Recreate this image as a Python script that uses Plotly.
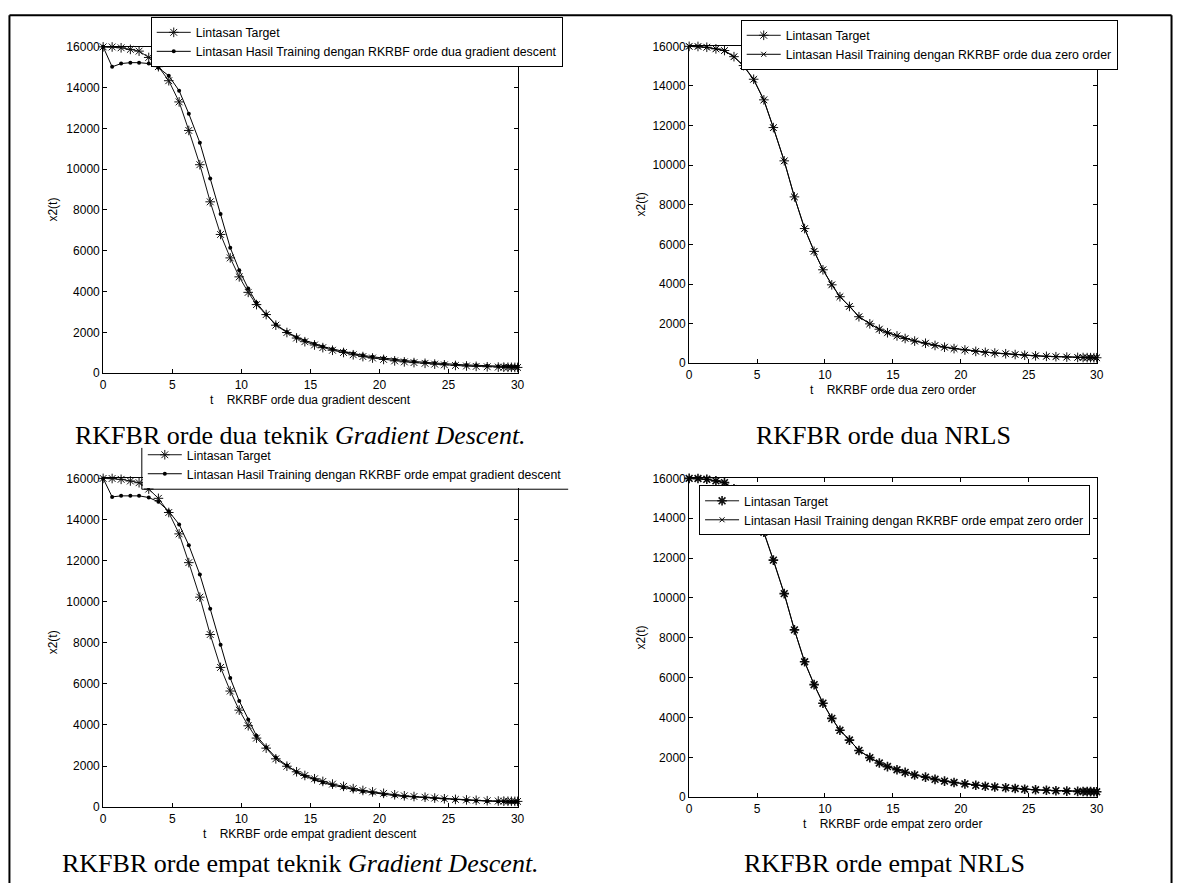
import plotly.graph_objects as go

W, H = 1183, 883

# ---------------- data ----------------
t = [0, 0.65, 1.3, 1.97, 2.6, 3.3, 4.0, 4.75, 5.5, 6.2,
     7.0, 7.75, 8.5, 9.2, 9.85, 10.5, 11.1, 11.8, 12.5, 13.3,
     14.0, 14.6, 15.3, 15.9, 16.6, 17.4, 18.1, 18.8, 19.5, 20.3,
     21.1, 21.8, 22.5, 23.3, 24.0, 24.7, 25.5, 26.3, 27.0, 27.8,
     28.6, 29.0, 29.3, 29.55, 29.8, 30.0]

target = [16000, 15995, 15955, 15875, 15790, 15480, 15030, 14340, 13300, 11900,
          10220, 8400, 6800, 5650, 4720, 3960, 3360, 2870, 2350, 1990,
          1720, 1540, 1380, 1250, 1120, 1010, 900, 810, 740, 670,
          600, 550, 515, 480, 440, 405, 375, 350, 330, 310,
          295, 290, 285, 282, 280, 278]

gd_dua = [16000, 15020, 15180, 15225, 15225, 15180, 14980, 14580, 13850, 12720,
          11300, 9550, 7800, 6150, 5050, 4150, 3450, 2880, 2380, 2020,
          1760, 1600, 1440, 1310, 1180, 1070, 960, 870, 800, 730,
          660, 610, 570, 530, 490, 460, 430, 400, 380, 355,
          335, 325, 320, 315, 312, 310]

zo_dua = [16000, 15990, 15950, 15870, 15780, 15470, 15010, 14320, 13280, 11880,
          10200, 8390, 6800, 5660, 4730, 3970, 3370, 2880, 2355, 1995,
          1715, 1545, 1385, 1255, 1125, 1015, 905, 815, 745, 675,
          605, 555, 520, 485, 445, 410, 380, 352, 332, 312,
          297, 292, 287, 284, 282, 280]

gd_empat = [16000, 15100, 15150, 15150, 15150, 15070, 14860, 14400, 13760, 12750,
            11320, 9650, 7900, 6280, 5170, 4260, 3470, 2920, 2420, 2030,
            1710, 1510, 1340, 1200, 1070, 950, 850, 760, 700, 620,
            560, 520, 490, 460, 420, 390, 360, 330, 310, 290,
            275, 270, 266, 263, 260, 258]

zo_empat = [16000, 15992, 15952, 15872, 15785, 15475, 15020, 14330, 13290, 11890,
            10210, 8395, 6790, 5655, 4725, 3965, 3365, 2875, 2352, 1992,
            1718, 1542, 1382, 1252, 1122, 1012, 902, 812, 742, 672,
            602, 552, 517, 482, 442, 407, 377, 351, 331, 311,
            296, 291, 286, 283, 281, 279]

x_ticks = [0, 5, 10, 15, 20, 25, 30]
y_ticks = [0, 2000, 4000, 6000, 8000, 10000, 12000, 14000, 16000]

legend_target = "Lintasan Target"
legend_names = [
    "Lintasan Hasil Training dengan RKRBF orde dua gradient descent",
    "Lintasan Hasil Training dengan RKRBF orde dua zero order",
    "Lintasan Hasil Training dengan RKRBF orde empat gradient descent",
    "Lintasan Hasil Training dengan RKRBF orde empat zero order",
]
xlabels = [
    "t\u00a0\u00a0\u00a0\u00a0RKRBF orde dua gradient descent",
    "t\u00a0\u00a0\u00a0\u00a0RKRBF orde dua zero order",
    "t\u00a0\u00a0\u00a0\u00a0RKRBF orde empat gradient descent",
    "t\u00a0\u00a0\u00a0\u00a0RKRBF orde empat zero order",
]
captions = [
    "RKFBR orde dua teknik <i>Gradient Descent.</i>",
    "RKFBR orde dua NRLS",
    "RKFBR orde empat teknik <i>Gradient Descent.</i>",
    "RKFBR orde empat NRLS",
]
series = [gd_dua, zo_dua, gd_empat, zo_empat]

# ---------------- layout helpers ----------------
def px(x):
    return x / W

def py(y):
    return 1 - y / H

# plot areas in pixels: (left, right, top, bottom)
boxes = [
    (101, 519, 40.5, 372),
    (692, 1103, 40, 362),
    (101, 519, 479, 813),
    (692, 1103, 479, 803),
]

SANS = "Liberation Sans, Arial, sans-serif"
SERIF = "Liberation Serif, Times New Roman, serif"

fig = go.Figure()

legend_ids = ["legend", "legend2", "legend3", "legend4"]
for i in range(4):
    xa = "x" if i == 0 else f"x{i+1}"
    ya = "y" if i == 0 else f"y{i+1}"
    bold = (i == 3)
    fig.add_trace(go.Scatter(
        x=t, y=target, mode="lines+markers", name=legend_target,
        xaxis=xa, yaxis=ya, legend=legend_ids[i], cliponaxis=False,
        line=dict(color="#111111", width=1),
        marker=dict(symbol="asterisk-open", size=8,
                    line=dict(color="black", width=1.6 if bold else 1)),
    ))
    if i in (0, 2):
        mk = dict(symbol="circle", size=4, color="black")
    else:
        mk = dict(symbol="x-thin-open", size=5, line=dict(color="black", width=1))
    fig.add_trace(go.Scatter(
        x=t, y=series[i], mode="lines+markers", name=legend_names[i],
        xaxis=xa, yaxis=ya, legend=legend_ids[i], cliponaxis=False,
        line=dict(color="black", width=1), marker=mk,
    ))

axis_common = dict(
    ticks="inside", ticklen=4, tickcolor="black", tickwidth=1,
    showline=True, linecolor="black", linewidth=1, mirror="ticks",
    showgrid=False, zeroline=False,
    tickfont=dict(family=SANS, size=12, color="black"),
)

layout = dict(
    width=W, height=H, margin=dict(l=0, r=0, t=0, b=0),
    paper_bgcolor="white", plot_bgcolor="white", showlegend=True,
)

for i, (l, r, tp, bt) in enumerate(boxes):
    xk = "xaxis" if i == 0 else f"xaxis{i+1}"
    yk = "yaxis" if i == 0 else f"yaxis{i+1}"
    ya = "y" if i == 0 else f"y{i+1}"
    xa = "x" if i == 0 else f"x{i+1}"
    layout[xk] = dict(axis_common, domain=[px(l), px(r)], range=[0, 30],
                      tickvals=x_ticks, anchor=ya)
    layout[yk] = dict(axis_common, domain=[py(bt), py(tp)], range=[0, 16000],
                      tickvals=y_ticks, tickformat="d", anchor=xa)

leg_common = dict(
    bgcolor="white", bordercolor="black", borderwidth=1,
    font=dict(family=SANS, size=12.3, color="black"),
    itemwidth=34, xanchor="left", tracegroupgap=0,
    itemclick=False, itemdoubleclick=False,
)
layout["legend"] = dict(leg_common, x=px(149), y=py(10), yanchor="top")
layout["legend2"] = dict(leg_common, x=px(744), y=py(13), yanchor="top")
layout["legend3"] = dict(leg_common, x=px(141), y=py(489), yanchor="bottom",
                         borderwidth=0)
layout["legend4"] = dict(leg_common, x=px(702), y=py(486), yanchor="top")

fig.update_layout(**layout)

# annotations: axis labels and captions
ann = []
for i, (l, r, tp, bt) in enumerate(boxes):
    cx = (l + r) / 2
    ann.append(dict(text=xlabels[i], xref="paper", yref="paper",
                    x=px(cx), y=py(bt + 27), xanchor="center", yanchor="middle",
                    showarrow=False, font=dict(family=SANS, size=12, color="black")))
    ylx = 50 if i in (0, 2) else 643
    ann.append(dict(text="x2(t)", xref="paper", yref="paper",
                    x=px(ylx), y=py((tp + bt) / 2), xanchor="center", yanchor="middle",
                    textangle=-90, showarrow=False,
                    font=dict(family=SANS, size=12, color="black")))

cap_pos = [(300, 435), (888, 435), (300, 870), (889, 870)]
for i, (cx, cy) in enumerate(cap_pos):
    ann.append(dict(text=captions[i], xref="paper", yref="paper",
                    x=px(cx), y=py(cy), xanchor="center", yanchor="middle",
                    showarrow=False, font=dict(family=SERIF, size=26, color="black")))
fig.update_layout(annotations=ann)

# frame and partial legend border (bottom-left legend is cropped)
shapes = [
    dict(type="line", xref="paper", yref="paper", x0=px(6.5), x1=px(6.5), y0=py(8.5), y1=-0.02,
         line=dict(color="black", width=2)),
    dict(type="line", xref="paper", yref="paper", x0=px(6.5), x1=px(1178.5), y0=py(8.5), y1=py(8.5),
         line=dict(color="black", width=2)),
    dict(type="line", xref="paper", yref="paper", x0=px(1178.5), x1=px(1178.5), y0=py(8.5), y1=-0.02,
         line=dict(color="black", width=2)),
    dict(type="line", xref="paper", yref="paper", x0=px(140), x1=px(140), y0=py(448), y1=py(490),
         line=dict(color="black", width=1)),
    dict(type="line", xref="paper", yref="paper", x0=px(140), x1=px(570), y0=py(490), y1=py(490),
         line=dict(color="black", width=1)),
]
fig.update_layout(shapes=shapes)

fig.write_html("out.html")
